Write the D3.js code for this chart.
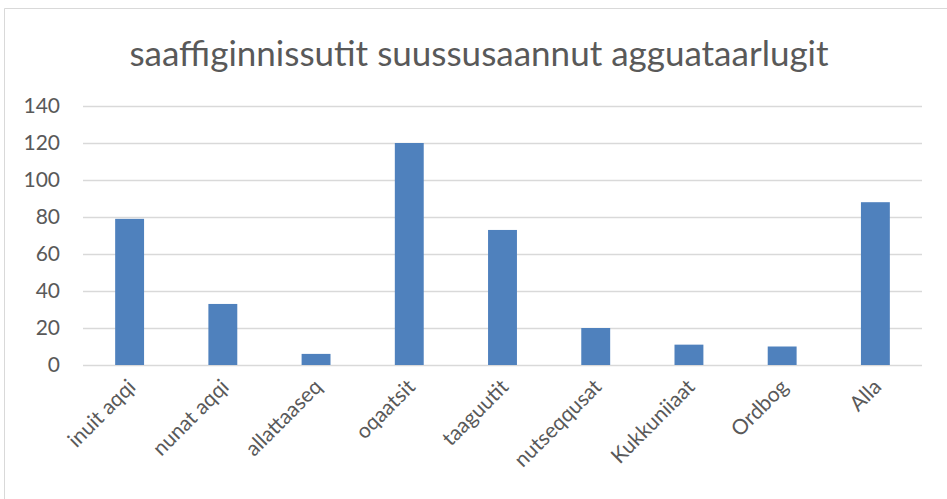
<!DOCTYPE html>
<html>
<head>
<meta charset="utf-8">
<script src="https://cdn.jsdelivr.net/npm/d3@7"></script>
<style>
  body { margin: 0; background: #fff; }
  text { font-family: Lato, "Open Sans", sans-serif; fill: #595959; }
</style>
</head>
<body>
<div id="graf"></div>
<script>
const titulo = "saaffiginnissutit suussusaannut agguataarlugit"
const categorias = ["inuit aqqi", "nunat aqqi", "allattaaseq", "oqaatsit", "taaguutit", "nutseqqusat", "Kukkuniiaat", "Ordbog", "Alla"]
const valores = [79, 33, 6, 120, 73, 20, 11, 10, 88]
const yTicks = [0, 20, 40, 60, 80, 100, 120, 140]

const draw = () => {
  const anchoTotal = 947
  const altoTotal = 499
  const margins = { top: 106, right: 25, bottom: 134, left: 83 }
  const ancho = anchoTotal - margins.left - margins.right
  const alto = altoTotal - margins.top - margins.bottom

  const dataset = categorias.map((c, i) => ({ cat: c, valor: valores[i] }))

  const svg = d3.select("#graf")
    .append("svg")
    .attr("width", anchoTotal)
    .attr("height", altoTotal)

  // borde del area
  svg.append("path")
    .attr("d", `M4.5,${altoTotal} V8.5 H${anchoTotal}`)
    .attr("fill", "none")
    .attr("stroke", "#d9d9d9")
    .attr("stroke-width", 1)

  svg.append("text")
    .attr("x", 479)
    .attr("y", 66)
    .attr("text-anchor", "middle")
    .style("font-size", "35px")
    .text(titulo)

  const x = d3.scaleBand()
    .domain(categorias)
    .range([0, ancho])
    .paddingInner(0.69)
    .paddingOuter(0.345)

  const y = d3.scaleLinear()
    .domain([0, 140])
    .range([alto, 0])

  const chart = svg.append("g")
    .attr("transform", `translate(${margins.left}, ${margins.top})`)

  // rejilla
  chart.append("g")
    .selectAll("line")
    .data(yTicks)
    .join("line")
    .attr("x1", 0)
    .attr("x2", ancho)
    .attr("y1", (d) => Math.round(y(d)) + 0.5)
    .attr("y2", (d) => Math.round(y(d)) + 0.5)
    .attr("stroke", "#d9d9d9")
    .attr("stroke-width", 1.5)

  chart.append("g")
    .selectAll("rect")
    .data(dataset)
    .join("rect")
    .attr("x", (d) => x(d.cat))
    .attr("y", (d) => y(d.valor))
    .attr("width", x.bandwidth())
    .attr("height", (d) => y(0) - y(d.valor))
    .attr("fill", "#4f81bd")

  const yAxis = d3.axisLeft(y).tickValues(yTicks).tickSize(0).tickPadding(23)
  const yAxisGroup = chart.append("g").call(yAxis)
  yAxisGroup.select(".domain").remove()
  yAxisGroup.selectAll("text").style("font-size", "21px").attr("fill", "#595959")

  const xAxis = d3.axisBottom(x).tickSize(0)
  const xAxisGroup = chart.append("g")
    .attr("transform", `translate(0, ${alto})`)
    .call(xAxis)
  xAxisGroup.select(".domain").remove()
  xAxisGroup.selectAll("text")
    .style("font-size", "21px")
    .attr("fill", "#595959")
    .attr("text-anchor", "end")
    .attr("y", 0)
    .attr("dy", "0.35em")
    .attr("transform", "translate(2, 18) rotate(-45)")
}

draw()
</script>
</body>
</html>
